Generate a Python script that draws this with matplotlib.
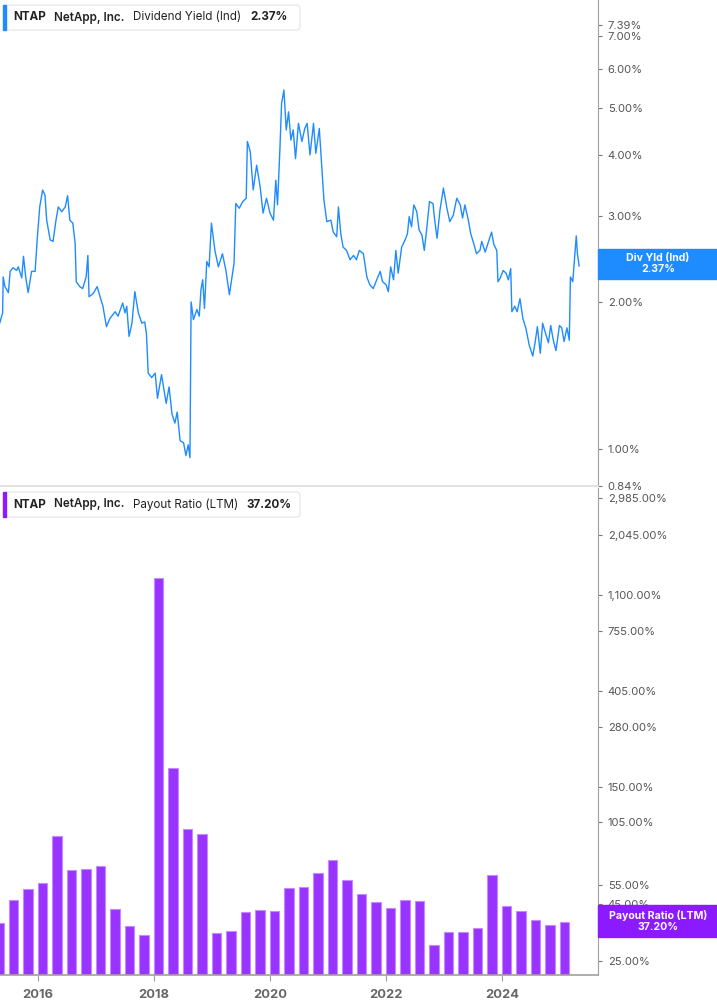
import numpy as np
import matplotlib
matplotlib.use("Agg")
import matplotlib.pyplot as plt
from matplotlib.patches import FancyBboxPatch, Rectangle
from matplotlib.ticker import FixedLocator, FuncFormatter, NullLocator

plt.rcParams['font.family'] = ['Inter', 'DejaVu Sans']

# dividend yield (Ind), % (decimal years)
yld_dates = [
    2015.34, 2015.39, 2015.40, 2015.43, 2015.49, 2015.52, 2015.57, 2015.63, 2015.66, 2015.72,
    2015.75, 2015.79, 2015.83, 2015.89, 2015.95, 2015.99, 2016.03, 2016.08, 2016.12, 2016.15,
    2016.21, 2016.26, 2016.31, 2016.35, 2016.41, 2016.47, 2016.51, 2016.55, 2016.60, 2016.64,
    2016.66, 2016.72, 2016.77, 2016.83, 2016.86, 2016.88, 2016.95, 2017.02, 2017.07, 2017.12,
    2017.18, 2017.24, 2017.33, 2017.38, 2017.46, 2017.50, 2017.53, 2017.57, 2017.62, 2017.67,
    2017.73, 2017.79, 2017.84, 2017.87, 2017.90, 2017.96, 2018.02, 2018.06, 2018.13, 2018.21,
    2018.26, 2018.31, 2018.36, 2018.40, 2018.45, 2018.51, 2018.55, 2018.59, 2018.62, 2018.64,
    2018.68, 2018.74, 2018.78, 2018.81, 2018.84, 2018.87, 2018.91, 2018.95, 2018.99, 2019.05,
    2019.11, 2019.18, 2019.24, 2019.30, 2019.36, 2019.38, 2019.41, 2019.47, 2019.53, 2019.59,
    2019.61, 2019.66, 2019.71, 2019.77, 2019.83, 2019.88, 2019.94, 2020.00, 2020.06, 2020.10,
    2020.13, 2020.17, 2020.20, 2020.24, 2020.28, 2020.32, 2020.36, 2020.40, 2020.44, 2020.49,
    2020.55, 2020.60, 2020.64, 2020.69, 2020.75, 2020.79, 2020.85, 2020.89, 2020.93, 2020.98,
    2021.05, 2021.09, 2021.15, 2021.18, 2021.22, 2021.26, 2021.32, 2021.38, 2021.44, 2021.49,
    2021.54, 2021.61, 2021.67, 2021.72, 2021.78, 2021.84, 2021.90, 2021.94, 2022.00, 2022.04,
    2022.08, 2022.13, 2022.17, 2022.21, 2022.27, 2022.33, 2022.37, 2022.40, 2022.44, 2022.48,
    2022.53, 2022.57, 2022.62, 2022.66, 2022.70, 2022.75, 2022.81, 2022.84, 2022.88, 2022.93,
    2022.99, 2023.05, 2023.10, 2023.16, 2023.22, 2023.28, 2023.32, 2023.36, 2023.42, 2023.46,
    2023.51, 2023.56, 2023.62, 2023.65, 2023.71, 2023.76, 2023.82, 2023.86, 2023.91, 2023.93,
    2023.97, 2024.02, 2024.07, 2024.11, 2024.15, 2024.17, 2024.22, 2024.26, 2024.31, 2024.36,
    2024.41, 2024.47, 2024.53, 2024.57, 2024.61, 2024.66, 2024.70, 2024.76, 2024.80, 2024.84,
    2024.88, 2024.93, 2024.99, 2025.03, 2025.07, 2025.12, 2025.16, 2025.18, 2025.22, 2025.24,
    2025.28, 2025.30, 2025.33,
]
yld_vals = [
    1.81, 1.90, 2.25, 2.15, 2.09, 2.31, 2.35, 2.32, 2.36, 2.24,
    2.48, 2.24, 2.09, 2.31, 2.31, 2.72, 3.13, 3.39, 3.31, 2.94,
    2.68, 2.66, 2.94, 3.13, 3.06, 3.13, 3.30, 2.94, 2.90, 2.64,
    2.20, 2.15, 2.13, 2.25, 2.49, 2.05, 2.08, 2.15, 2.05, 1.96,
    1.78, 1.85, 1.91, 1.87, 1.99, 1.90, 1.96, 1.70, 1.81, 2.10,
    1.90, 1.81, 1.82, 1.72, 1.43, 1.40, 1.43, 1.27, 1.42, 1.24,
    1.34, 1.18, 1.13, 1.19, 1.04, 1.03, 0.97, 1.02, 0.96, 2.00,
    1.84, 1.93, 1.87, 2.12, 2.22, 1.94, 2.42, 2.36, 2.90, 2.55,
    2.36, 2.51, 2.32, 2.07, 2.31, 2.40, 3.18, 3.11, 3.21, 3.26,
    4.26, 4.06, 3.39, 3.81, 3.44, 3.04, 3.26, 3.04, 2.94, 3.55,
    3.16, 4.09, 5.10, 5.43, 4.50, 4.90, 4.29, 4.50, 3.93, 4.64,
    4.26, 4.53, 4.64, 4.00, 4.64, 4.03, 4.53, 3.84, 3.23, 2.92,
    2.94, 2.78, 2.72, 3.13, 2.76, 2.59, 2.55, 2.44, 2.49, 2.44,
    2.55, 2.51, 2.25, 2.17, 2.13, 2.22, 2.31, 2.20, 2.17, 2.10,
    2.36, 2.22, 2.55, 2.29, 2.59, 2.68, 2.76, 2.99, 2.85, 3.16,
    3.06, 2.81, 2.74, 2.55, 2.81, 3.21, 3.18, 2.94, 2.70, 3.08,
    3.42, 3.11, 2.92, 3.01, 3.26, 3.16, 2.97, 3.16, 2.94, 2.76,
    2.64, 2.51, 2.55, 2.66, 2.53, 2.64, 2.78, 2.62, 2.55, 2.20,
    2.24, 2.32, 2.29, 2.22, 2.34, 1.91, 1.96, 1.91, 2.03, 1.85,
    1.77, 1.63, 1.55, 1.65, 1.78, 1.57, 1.81, 1.71, 1.65, 1.79,
    1.68, 1.59, 1.79, 1.77, 1.66, 1.77, 1.67, 2.25, 2.20, 2.36,
    2.73, 2.51, 2.37,
]

# payout ratio (LTM), %, fiscal quarter ends
pay_dates = [
    2015.33, 2015.58, 2015.83, 2016.08, 2016.33, 2016.58, 2016.83, 2017.08,
    2017.33, 2017.58, 2017.83, 2018.08, 2018.33, 2018.58, 2018.83, 2019.08,
    2019.33, 2019.58, 2019.83, 2020.08, 2020.33, 2020.58, 2020.83, 2021.08,
    2021.33, 2021.58, 2021.83, 2022.08, 2022.33, 2022.58, 2022.83, 2023.08,
    2023.33, 2023.58, 2023.83, 2024.08, 2024.33, 2024.58, 2024.83, 2025.08,
]
pay_vals = [
    37.0, 46.9, 52.6, 56.1, 91.2, 64.0, 64.7, 66.5,
    42.8, 36.0, 32.7, 1307, 183.6, 97.8, 92.8, 33.4,
    34.1, 41.5, 42.3, 41.9, 53.0, 53.9, 61.9, 71.2,
    57.9, 49.9, 46.0, 43.2, 47.1, 46.5, 29.5, 33.6,
    33.6, 35.1, 60.8, 44.1, 42.0, 38.2, 36.3, 37.2,
]

yld_ticks = [0.84, 1, 2, 3, 4, 5, 6, 7, 7.39]
pay_ticks = [25, 45, 55, 105, 150, 280, 405, 755, 1100, 2045, 2985]
year_ticks = [2016, 2018, 2020, 2022, 2024]

blue = '#1e8bff'
purple = '#9933ff'
flag_purple = '#8c1aff'
grey = '#a0a0a0'
W, H = 717, 1005


def fx(x):
    return x / W


def fy(y):
    return 1 - y / H


fig = plt.figure(figsize=(W / 100, H / 100), dpi=100)

ax1 = fig.add_axes([0, fy(486), fx(598), 486 / H])
ax2 = fig.add_axes([0, fy(975), fx(598), (975 - 488) / H])

# top panel: dividend yield
ax1.plot(yld_dates, yld_vals, color=blue, lw=1.0)
ax1.set_yscale('log')
ax1.set_ylim(0.84, 8.30)

# bottom panel: payout ratio
ax2.set_yscale('log')
ax2.bar(pay_dates, pay_vals, width=0.165, color=purple,
        edgecolor='#c38bff', linewidth=0.8)
ax2.set_ylim(21.6, 3311)

for ax in (ax1, ax2):
    ax.set_xlim(2015.345, 2025.655)
    for s in ('top', 'left'):
        ax.spines[s].set_visible(False)
    ax.spines['right'].set_color(grey)
    ax.yaxis.tick_right()
    ax.yaxis.set_minor_locator(NullLocator())
    ax.tick_params(axis='y', which='major', length=3, width=0.8, color='#777777',
                   labelsize=8.1, labelcolor='#555555', pad=4)

ax1.spines['bottom'].set_color('#dddddd')
ax1.spines['bottom'].set_linewidth(1.2)
ax1.set_xticks([])
ax1.yaxis.set_major_locator(FixedLocator(yld_ticks))
ax1.yaxis.set_major_formatter(FuncFormatter(lambda v, p: f"{v:.2f}%"))

ax2.spines['bottom'].set_color(grey)
ax2.spines['bottom'].set_linewidth(1.2)
ax2.yaxis.set_major_locator(FixedLocator(pay_ticks))
ax2.yaxis.set_major_formatter(FuncFormatter(lambda v, p: f"{v:,.2f}%"))
ax2.set_xticks(year_ticks)
ax2.set_xticklabels([str(y) for y in year_ticks])
ax2.tick_params(axis='x', length=4, width=0.8, color=grey, labelsize=9.3,
                labelcolor='#666666', pad=6)
for lab in ax2.get_xticklabels():
    lab.set_fontweight('bold')


def legend_box(y0, y1, color, parts):
    box = FancyBboxPatch((fx(4), fy(y1)), fx(300) - fx(4), fy(y0) - fy(y1),
                         boxstyle="round,pad=0,rounding_size=0.004",
                         transform=fig.transFigure, facecolor='white',
                         edgecolor='#e4e4e4', lw=0.8, zorder=5)
    fig.patches.append(box)
    bar = Rectangle((fx(3), fy(y1)), fx(3), fy(y0) - fy(y1),
                    transform=fig.transFigure, color=color, zorder=6)
    fig.patches.append(bar)
    yc = fy((y0 + y1) / 2)
    for x, txt, wt in parts:
        fig.text(fx(x), yc, txt, fontsize=8.4, fontweight=wt, color='#222222',
                 va='center', ha='left', zorder=7)


legend_box(5, 30, blue, [(13, 'NTAP', 'bold'), (54, 'NetApp, Inc.', 'semibold'),
                         (133, 'Dividend Yield (Ind)', 'normal'), (250, '2.37%', 'bold')])
legend_box(492, 517, flag_purple, [(13, 'NTAP', 'bold'), (54, 'NetApp, Inc.', 'semibold'),
                                   (133, 'Payout Ratio (LTM)', 'normal'), (246, '37.20%', 'bold')])


def flag(y0, y1, color, line1, line2):
    r = Rectangle((fx(598), fy(y1)), fx(717) - fx(598), fy(y0) - fy(y1),
                  transform=fig.transFigure, color=color, zorder=6)
    fig.patches.append(r)
    xc = fx(658)
    ym = (y0 + y1) / 2
    fig.text(xc, fy(ym - 5.5), line1, fontsize=7.6, fontweight='bold', color='white',
             ha='center', va='center', zorder=7)
    fig.text(xc, fy(ym + 5.5), line2, fontsize=7.6, fontweight='bold', color='white',
             ha='center', va='center', zorder=7)


flag(249, 279, blue, 'Div Yld (Ind)', '2.37%')
flag(905, 937, flag_purple, 'Payout Ratio (LTM)', '37.20%')

fig.savefig('out.png', dpi=100)
